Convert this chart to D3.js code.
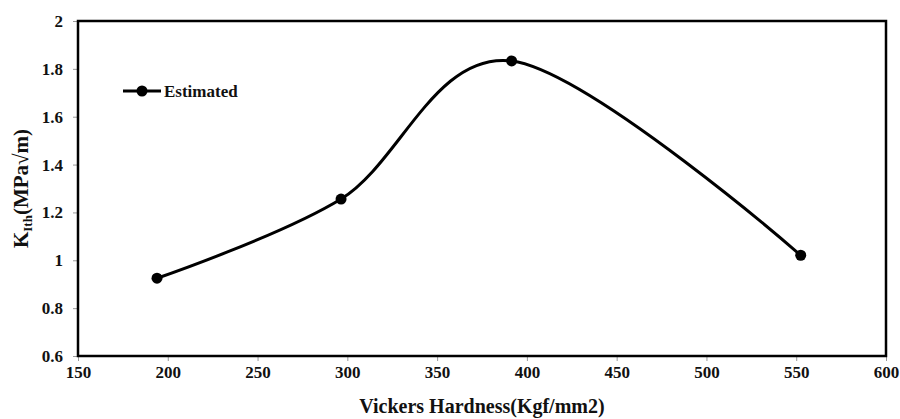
<!DOCTYPE html>
<html>
<head>
<meta charset="utf-8">
<script src="https://cdn.jsdelivr.net/npm/d3@7"></script>
<style>
  body { margin: 0; background: #fff; }
  svg text { font-family: "Liberation Serif", "Times New Roman", serif; font-weight: bold; fill: #111; }
</style>
</head>
<body>
<div id="chart"></div>
<script>
// Data
var hardness = [194, 296.5, 391.5, 552.5];
var toughness = [0.925, 1.256, 1.833, 1.021];
var xTicks = [150, 200, 250, 300, 350, 400, 450, 500, 550, 600];
var yTicks = [0.6, 0.8, 1, 1.2, 1.4, 1.6, 1.8, 2];
var seriesName = 'Estimated';

var svgWidth = 900;
var svgHeight = 419;
var margin = { top: 21, right: 14, bottom: 63, left: 78 };
var width = svgWidth - margin.left - margin.right;
var height = svgHeight - margin.top - margin.bottom;

var svg = d3.select('#chart')
  .append('svg')
  .attr('width', svgWidth)
  .attr('height', svgHeight);

var chartGroup = svg.append('g')
  .attr('transform', `translate(${margin.left}, ${margin.top})`);

var x = d3.scaleLinear().domain([150, 600]).range([0, width]);
var y = d3.scaleLinear().domain([0.6, 2]).range([height, 0]);

// axes (ticks gray, labels bold serif)
var xAxis = chartGroup.append('g')
  .attr('transform', `translate(0, ${height})`)
  .call(d3.axisBottom(x).tickValues(xTicks).tickSize(5).tickSizeOuter(0).tickPadding(5).tickFormat(d3.format('d')));

var yAxis = chartGroup.append('g')
  .call(d3.axisLeft(y).tickValues(yTicks).tickSize(5).tickSizeOuter(0).tickPadding(10).tickFormat(d => d3.format('')(d)));

[xAxis, yAxis].forEach(function(a) {
  a.attr('font-family', null).attr('font-size', null);
  a.select('.domain').remove();
  a.selectAll('.tick line').attr('stroke', '#999').attr('stroke-width', 1);
  a.selectAll('.tick text')
    .style('font-size', '17px')
    .style('fill', '#111');
});

// plot frame
chartGroup.append('rect')
  .attr('x', 0)
  .attr('y', 0)
  .attr('width', width)
  .attr('height', height)
  .attr('fill', 'none')
  .attr('stroke', '#000')
  .attr('stroke-width', 2.5);

// smoothed line, like Excel's
var points = hardness.map((h, i) => [x(h), y(toughness[i])]);
var line = d3.line().curve(d3.curveCardinal.tension(0));

chartGroup.append('path')
  .attr('d', line(points))
  .attr('fill', 'none')
  .attr('stroke', '#000')
  .attr('stroke-width', 3);

chartGroup.selectAll('circle.pt')
  .data(points)
  .enter()
  .append('circle')
  .attr('class', 'pt')
  .attr('cx', d => d[0])
  .attr('cy', d => d[1])
  .attr('r', 5.5)
  .attr('fill', '#000');

// legend
var legend = svg.append('g').attr('transform', 'translate(123, 91)');
legend.append('line')
  .attr('x1', 0).attr('x2', 38)
  .attr('stroke', '#000').attr('stroke-width', 3);
legend.append('circle')
  .attr('cx', 19).attr('r', 5.5).attr('fill', '#000');
legend.append('text')
  .attr('x', 41).attr('y', 6)
  .style('font-size', '17px')
  .text(seriesName);

// x title
svg.append('text')
  .attr('x', margin.left + width / 2)
  .attr('y', 413)
  .attr('text-anchor', 'middle')
  .style('font-size', '20px')
  .text('Vickers Hardness(Kgf/mm2)');

// y title
var yTitle = svg.append('text')
  .attr('transform', `translate(28, ${margin.top + height / 2}) rotate(-90)`)
  .attr('text-anchor', 'middle')
  .style('font-size', '21px');
yTitle.append('tspan').text('K');
yTitle.append('tspan').style('font-size', '13px').attr('dy', 4).text('Ith');
yTitle.append('tspan').attr('dy', -4).text('(MPa√m)');
</script>
</body>
</html>
